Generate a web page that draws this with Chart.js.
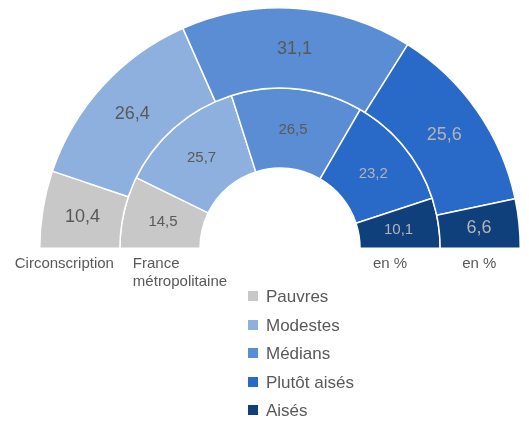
<!DOCTYPE html>
<html>
<head>
<meta charset="utf-8">
<script src="https://cdn.jsdelivr.net/npm/chart.js@4"></script>
<style>
  html, body { margin: 0; padding: 0; background: #fff; }
  #wrap { position: relative; width: 529px; height: 421px; }
  #legend { position: absolute; left: 248px; top: 284px; font-family: "Liberation Sans", Arial, sans-serif; font-size: 17px; color: #595959; }
  #legend div { height: 28.5px; line-height: 26px; white-space: nowrap; }
  #legend span { display: inline-block; width: 10px; height: 10px; margin-right: 8px; vertical-align: 1px; }
</style>
</head>
<body>
<div id="wrap">
  <canvas id="chart" width="529" height="421"></canvas>
  <div id="legend"></div>
</div>
<script>
// categories
const categories = ['Pauvres', 'Modestes', 'Médians', 'Plutôt aisés', 'Aisés'];
// series (rings)
const ringNames = ['Circonscription', 'France métropolitaine'];
const circonscription = [10.4, 26.4, 31.1, 25.6, 6.6];
const franceMetro = [14.5, 25.7, 26.5, 23.2, 10.1];
const unitLabel = 'en %';

const colors = ['#c8c8c8', '#8eb0de', '#5b8dd4', '#2969c7', '#10407c'];
const labelColors = ['#595959', '#595959', '#595959', '#b4b4b4', '#b4b4b4'];

// legend (html)
const legend = document.getElementById('legend');
categories.forEach((c, i) => {
    legend.innerHTML += '<div><span style="background:' + colors[i] + '"></span>' + c + '</div>';
});

// labels on arcs + ring names under the chart
const labelPlugin = {
    id: 'labelPlugin',
    afterDatasetsDraw(chart) {
        const ctx = chart.ctx;
        ctx.save();
        ctx.textAlign = 'center';
        ctx.textBaseline = 'middle';
        chart.data.datasets.forEach((ds, di) => {
            const meta = chart.getDatasetMeta(di);
            ctx.font = (di === 0 ? 18 : 15) + 'px "Liberation Sans", Arial, sans-serif';
            meta.data.forEach((arc, i) => {
                const p = arc.tooltipPosition();
                ctx.fillStyle = labelColors[i];
                ctx.fillText(ds.data[i].toFixed(1).replace('.', ','), p.x, p.y + 1);
            });
        });

        // ring names
        ctx.font = '15px "Liberation Sans", Arial, sans-serif';
        ctx.fillStyle = '#595959';
        ctx.textAlign = 'left';
        const outer = chart.getDatasetMeta(0).data[0];
        const inner = chart.getDatasetMeta(1).data[0];
        const cx = outer.x, cy = outer.y;
        const ty = cy + 16;
        ctx.fillText(ringNames[0], cx - outer.outerRadius - 25, ty);
        ctx.fillText('France', cx - inner.outerRadius + 13, ty);
        ctx.fillText('métropolitaine', cx - inner.outerRadius + 13, ty + 18);
        ctx.fillText(unitLabel, cx + inner.innerRadius + 13, ty);
        ctx.fillText(unitLabel, cx + outer.innerRadius + 22, ty);
        ctx.restore();
    }
};

new Chart(document.getElementById('chart'), {
    type: 'doughnut',
    data: {
        labels: categories,
        datasets: [{
            label: ringNames[0],
            data: circonscription,
            backgroundColor: colors,
            borderColor: '#ffffff',
            borderWidth: 1.5
        }, {
            label: ringNames[1],
            data: franceMetro,
            backgroundColor: colors,
            borderColor: '#ffffff',
            borderWidth: 1.5
        }]
    },
    options: {
        responsive: false,
        animation: false,
        rotation: -90,
        circumference: 180,
        cutout: '33.3%',
        layout: {
            padding: { left: 39, right: 8, top: 7, bottom: 172 }
        },
        plugins: {
            legend: { display: false },
            tooltip: { enabled: false }
        }
    },
    plugins: [labelPlugin]
});
</script>
</body>
</html>
